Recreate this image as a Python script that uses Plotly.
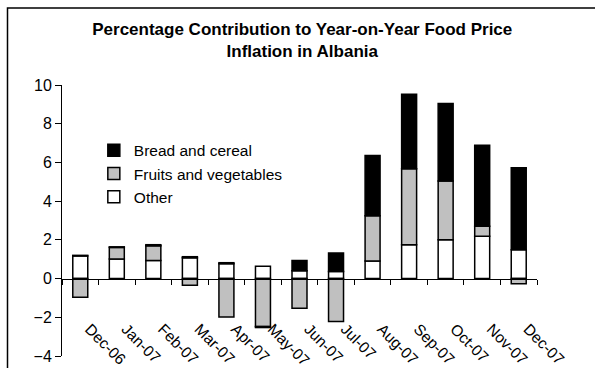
import plotly.graph_objects as go

# Monthly contributions (percentage points) to y/y food price inflation
months = ["Dec-06", "Jan-07", "Feb-07", "Mar-07", "Apr-07", "May-07", "Jun-07",
          "Jul-07", "Aug-07", "Sep-07", "Oct-07", "Nov-07", "Dec-07"]
other = [1.17, 1.01, 0.93, 1.07, 0.77, 0.64, 0.41, 0.36, 0.91, 1.75, 2.01, 2.18, 1.49]
fruits_veg = [-0.97, 0.60, 0.76, -0.34, -1.99, -2.48, -1.53, -2.22, 2.34, 3.92, 3.03, 0.52, -0.27]
bread_cereal = [0.03, 0.03, 0.06, 0.06, 0.05, -0.05, 0.52, 0.96, 3.11, 3.85, 4.00, 4.19, 4.23]

y_ticks = [-4, -2, 0, 2, 4, 6, 8, 10]
y_min, y_max = -4, 10

FONT = "Arial, Liberation Sans, sans-serif"
outline = dict(color="black", width=1.5)

fig = go.Figure()
fig.add_trace(go.Bar(x=months, y=other, name="Other",
                     marker=dict(color="white", line=outline)))
fig.add_trace(go.Bar(x=months, y=fruits_veg, name="Fruits and vegetables",
                     marker=dict(color="#C0C0C0", line=outline)))
fig.add_trace(go.Bar(x=months, y=bread_cereal, name="Bread and cereal",
                     marker=dict(color="black", line=outline)))

# invisible helper so the month-label axis is rendered
idx = list(range(len(months)))
fig.add_trace(go.Scatter(x=idx, y=other, xaxis="x2", mode="markers",
                         marker=dict(opacity=0), showlegend=False, hoverinfo="skip"))

zero_pos = (0 - y_min) / (y_max - y_min)
label_pos = (-1.94 - y_min) / (y_max - y_min)
label_shift = 0.25  # month labels sit slightly right of the bar centres

fig.update_layout(
    width=595, height=368,
    margin=dict(l=62, r=58, t=85, b=12),
    barmode="relative",
    bargap=0.59,
    plot_bgcolor="white", paper_bgcolor="white",
    font=dict(family=FONT, size=16, color="black"),
    title=dict(text="<b>Percentage Contribution to Year-on-Year Food Price<br>Inflation in Albania</b>",
               x=0.508, xanchor="center", y=0.905, yanchor="top",
               font=dict(family=FONT, size=17, color="black")),
    showlegend=True,
    legend=dict(x=0.067, y=0.82, xanchor="left", yanchor="top",
                traceorder="reversed", bgcolor="rgba(0,0,0,0)",
                font=dict(family=FONT, size=15.5, color="black"),
                itemwidth=30, tracegroupgap=0),
    xaxis=dict(type="category", categoryarray=months, categoryorder="array",
               range=[-0.5, len(months) - 0.5],
               anchor="free", position=zero_pos, automargin=False,
               showline=True, linecolor="black", linewidth=1,
               ticks="outside", ticklen=5, tickcolor="black", tickwidth=1,
               tickson="boundaries", showticklabels=False,
               showgrid=False, zeroline=False),
    xaxis2=dict(overlaying="x", anchor="free", position=label_pos, automargin=False,
                range=[-0.5 - label_shift, len(months) - 0.5 - label_shift],
                tickvals=idx, ticktext=months,
                tickangle=45, ticks="", showline=False, showgrid=False,
                zeroline=False, tickfont=dict(family=FONT, size=15.5, color="black")),
    yaxis=dict(range=[y_min, y_max], tickvals=y_ticks, automargin=False,
               showline=True, linecolor="black", linewidth=1,
               ticks="outside", ticklen=6, tickcolor="black",
               showgrid=False, zeroline=False,
               tickfont=dict(family=FONT, size=16, color="black")),
)

# outer chart frame
fig.add_shape(type="rect", xref="paper", yref="paper",
              x0=(7.5 - 62) / 475, x1=1.2, y0=-0.2, y1=(356 - 8) / 271,
              line=dict(color="black", width=1.5), fillcolor="rgba(0,0,0,0)", layer="below")

fig.write_html("out.html")
